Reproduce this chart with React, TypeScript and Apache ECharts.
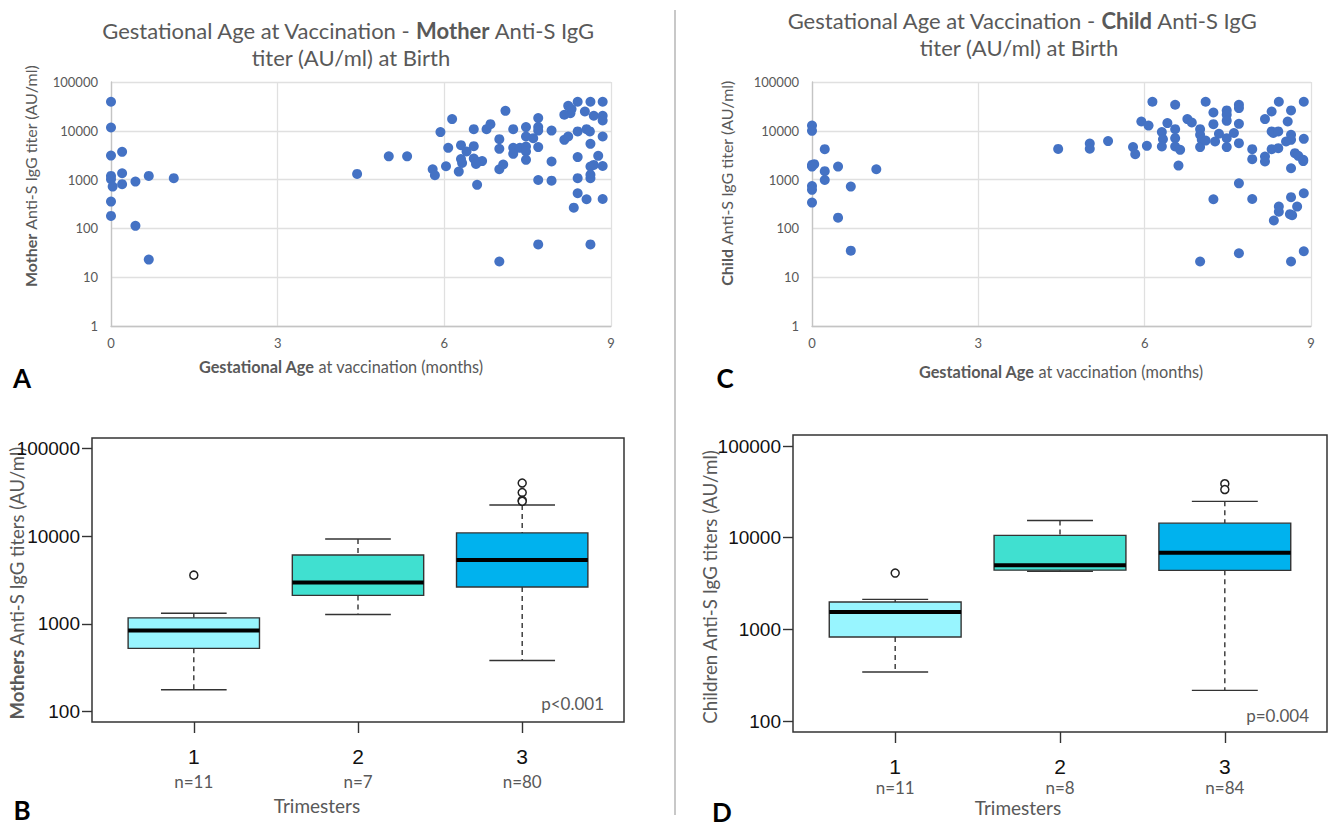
import React, { useEffect, useRef } from "react";
import * as echarts from "echarts";

// ---- Scatter data (gestational age in months, anti-S IgG titer AU/ml) ----
const motherAge = [
  0, 0, 0, 0.2, 0, 0, 0.03, 0.2, 0.2, 0.44, 0.68, 1.13, 0, 0, 0.44, 0.68,
  4.43, 5.0, 5.33, 5.79, 5.83, 5.93, 6.03, 6.07, 6.14, 6.26, 6.3, 6.4, 6.3, 6.32,
  6.53, 6.53, 6.53, 6.6, 6.68, 6.57, 6.59, 6.76, 6.83, 7.1, 6.99, 6.99, 6.99, 7.06,
  6.99, 7.24, 7.24, 7.24, 7.36, 7.47, 7.47, 7.47, 7.47, 7.47, 7.6, 7.69, 7.69, 7.69,
  7.69, 7.69, 7.69, 7.93, 7.93, 7.93, 8.16, 8.23, 8.27, 8.29, 8.4, 8.16, 8.23, 8.4,
  8.4, 8.4, 8.4, 8.33, 8.53, 8.56, 8.62, 8.63, 8.56, 8.63, 8.63, 8.63, 8.63, 8.69,
  8.63, 8.69, 8.77, 8.85, 8.85, 8.85, 8.85, 8.85, 8.85,
];
const motherTiter = [
  39400, 11700, 3100, 3700, 1190, 1020, 718, 1350, 805, 910, 1190, 1070, 354, 180, 113, 23,
  1310, 3000, 3000, 1630, 1230, 9400, 1880, 4480, 17400, 1460, 5080, 3760, 2630, 2190,
  10800, 4850, 2700, 2300, 2400, 2100, 780, 10800, 13700, 25700, 6750, 4270, 1630, 2040,
  21, 10800, 4480, 3370, 4480, 4760, 3760, 2540, 11900, 7630, 7070, 18200, 11900, 10100,
  4630, 980, 47, 10100, 2350, 950, 21300, 32600, 23000, 27900, 39400, 6540, 7630, 9700,
  2890, 1070, 525, 266, 24900, 10800, 9700, 5400, 395, 39400, 1850, 1250, 1070, 2000,
  47, 20300, 3070, 39400, 20300, 16300, 7630, 1900, 400,
];
const childAge = [
  0, 0, 0.23, 0, 0.04, 0, 0.23, 0.23, 0.47, 1.16, 0, 0, 0.7, 0, 0.47, 0.7,
  4.44, 5.01, 5.01, 5.34, 5.79, 5.83, 5.94, 6.07, 6.04, 6.14, 6.31, 6.33, 6.31, 6.41,
  6.55, 6.55, 6.55, 6.55, 6.64, 6.61, 6.77, 6.85, 7.0, 7.0, 7.03, 7.0, 7.1, 7.1, 7.0,
  7.24, 7.24, 7.27, 7.24, 7.34, 7.48, 7.48, 7.48, 7.48, 7.48, 7.61, 7.7, 7.7, 7.7, 7.7,
  7.7, 7.7, 7.94, 7.94, 7.94, 8.17, 8.17, 8.17, 8.29, 8.29, 8.32, 8.41, 8.29, 8.41,
  8.42, 8.42, 8.42, 8.33, 8.58, 8.64, 8.64, 8.64, 8.55, 8.64, 8.64, 8.62, 8.66, 8.75,
  8.64, 8.71, 8.77, 8.86, 8.86, 8.87, 8.87, 8.87, 8.87,
];
const childTiter = [
  12800, 10000, 4200, 2000, 2070, 1850, 1490, 980, 1850, 1630, 740, 616, 718, 338, 166, 35,
  4260, 5500, 4300, 6150, 4630, 3320, 15500, 12800, 4920, 39400, 9400, 6750, 4760, 14400,
  34200, 10800, 7070, 4760, 4070, 1940, 17400, 14800, 10800, 8280, 6540, 4630, 39400, 6300, 21,
  23700, 13700, 6040, 395, 8700, 26200, 21300, 16000, 7070, 4630, 9000, 34200, 29200, 13900, 5590,
  840, 31, 4200, 2620, 400, 17400, 2970, 2350, 24900, 9700, 9000, 9700, 4200, 4400,
  39400, 280, 219, 145, 15500, 26200, 8280, 6540, 6040, 1710, 436, 196, 187, 280,
  21, 3480, 3070, 2540, 2400, 39400, 6850, 525, 34,
];
const scatterTicks = [1, 10, 100, 1000, 10000, 100000];

// ---- Box plot data by trimester: [min, Q1, median, Q3, max] ----
const trimesters = [1, 2, 3];
const motherN = [11, 7, 80];
const childN = [11, 8, 84];
const motherBox = [
  [177, 525, 838, 1170, 1320],
  [1280, 2110, 2960, 6100, 9300],
  [382, 2630, 5350, 10900, 22700],
];
const motherOutliers = [
  [1, 3590],
  [3, 40400],
  [3, 31500],
  [3, 25700],
  [3, 25000],
];
const childBox = [
  [342, 824, 1545, 1990, 2120],
  [4300, 4420, 5000, 10600, 15400],
  [216, 4400, 6860, 14400, 24900],
];
const childOutliers = [
  [1, 4110],
  [3, 38800],
  [3, 33500],
];
const boxTicks = [100, 1000, 10000, 100000];
const boxColors = ["#98F5FF", "#40E0D0", "#00B2EE"];

const CAL = "Lato, 'Open Sans', sans-serif";
const NARROW = "'Liberation Sans Narrow', 'Arial Narrow', 'Liberation Sans', sans-serif";
const GRAY = "#595959";

function renderBox(params: any, api: any) {
  const x = api.value(0);
  const vmin = api.value(1);
  const q1 = api.value(2);
  const med = api.value(3);
  const q3 = api.value(4);
  const vmax = api.value(5);
  const cx = api.coord([x, med])[0];
  const bl = api.coord([x - 0.4, med])[0];
  const br = api.coord([x + 0.4, med])[0];
  const cl = api.coord([x - 0.2, med])[0];
  const cr = api.coord([x + 0.2, med])[0];
  const yMin = api.coord([x, vmin])[1];
  const yQ1 = api.coord([x, q1])[1];
  const yMed = api.coord([x, med])[1];
  const yQ3 = api.coord([x, q3])[1];
  const yMax = api.coord([x, vmax])[1];
  const stroke = "#333";
  const dash = { stroke, lineWidth: 1.4, lineDash: [5, 4] };
  const solid = { stroke, lineWidth: 1.4 };
  return {
    type: "group",
    children: [
      { type: "line", shape: { x1: cx, y1: yMax, x2: cx, y2: yQ3 }, style: dash },
      { type: "line", shape: { x1: cx, y1: yQ1, x2: cx, y2: yMin }, style: dash },
      { type: "line", shape: { x1: cl, y1: yMax, x2: cr, y2: yMax }, style: solid },
      { type: "line", shape: { x1: cl, y1: yMin, x2: cr, y2: yMin }, style: solid },
      {
        type: "rect",
        shape: { x: bl, y: yQ3, width: br - bl, height: yQ1 - yQ3 },
        style: { fill: boxColors[params.dataIndex], stroke, lineWidth: 1.4 },
      },
      { type: "line", shape: { x1: bl, y1: yMed, x2: br, y2: yMed }, style: { stroke: "#000", lineWidth: 4 } },
    ],
  };
}

function scatterAxes(gridIndex: number) {
  const x = {
    type: "value",
    gridIndex,
    min: 0,
    max: 9,
    interval: 3,
    axisLine: { show: true, lineStyle: { color: "#c4c4c4", width: 1.3 } },
    axisTick: { show: false },
    splitLine: { show: true, lineStyle: { color: "#e0e0e0", width: 1.3 } },
    axisLabel: { color: GRAY, fontFamily: CAL, fontSize: 13, margin: 10 },
  };
  const y = {
    type: "log",
    logBase: 10,
    gridIndex,
    min: scatterTicks[0],
    max: scatterTicks[scatterTicks.length - 1],
    axisLine: { show: true, lineStyle: { color: "#c4c4c4", width: 1.3 } },
    axisTick: { show: false },
    splitLine: { show: true, lineStyle: { color: "#e0e0e0", width: 1.3 } },
    axisLabel: {
      color: GRAY,
      fontFamily: CAL,
      fontSize: 13,
      margin: 13,
      formatter: (v: number) => String(Math.round(v)),
    },
  };
  return { x, y };
}

function boxAxes(gridIndex: number, counts: number[], topLine: number) {
  const isB = gridIndex === 2;
  const x = {
    type: "value",
    gridIndex,
    min: 0.38,
    max: 3.62,
    axisLine: { show: false },
    splitLine: { show: false },
    axisTick: {
      show: true,
      customValues: trimesters,
      length: 11,
      lineStyle: { color: "#333", width: 1.4 },
    },
    axisLabel: {
      customValues: trimesters,
      margin: topLine,
      formatter: (v: number) => {
        const i = Math.round(v);
        return `{c|${i}}\n{n|n=${counts[i - 1]}}`;
      },
      rich: {
        c: { fontFamily: NARROW, fontSize: 21, color: "#111", lineHeight: isB ? 24 : 21 },
        n: { fontFamily: CAL, fontSize: 17, color: GRAY, lineHeight: isB ? 26 : 20 },
      },
    },
  };
  const y = {
    type: "log",
    logBase: 10,
    gridIndex,
    min: Math.pow(10, 1.88),
    max: Math.pow(10, 5.12),
    axisLine: { show: false },
    splitLine: { show: false },
    axisTick: {
      show: true,
      customValues: boxTicks,
      length: 10,
      lineStyle: { color: "#333", width: 1.4 },
    },
    axisLabel: {
      customValues: boxTicks,
      fontFamily: NARROW,
      fontSize: 19,
      color: "#111",
      margin: 12,
      formatter: (v: number) => String(Math.round(v)),
    },
  };
  return { x, y };
}

function txt(x: number, y: number, text: string, opts: any = {}) {
  const { rotation, ...style } = opts;
  return {
    type: "text",
    x,
    y,
    rotation: rotation || 0,
    style: {
      text,
      fill: GRAY,
      font: `15px ${CAL}`,
      align: "center",
      verticalAlign: "middle",
      ...style,
    },
  };
}

export default function App() {
  const ref = useRef<HTMLDivElement>(null);

  useEffect(() => {
    if (!ref.current) return;
    const chart = echarts.init(ref.current, null, { renderer: "svg" });

    const a = scatterAxes(0);
    const c = scatterAxes(1);
    const b = boxAxes(2, motherN, 22);
    const d = boxAxes(3, childN, 24);

    const boldRich = (size: number) => ({
      b: { fontFamily: CAL, fontSize: size, fontWeight: "bold", fill: GRAY, color: GRAY },
      r: { fontFamily: CAL, fontSize: size, fill: GRAY, color: GRAY },
    });

    const option: any = {
      animation: false,
      backgroundColor: "#ffffff",
      textStyle: { fontFamily: CAL },
      grid: [
        { left: 111, top: 82, width: 500, height: 244 },
        { left: 812, top: 82, width: 499, height: 244 },
        { left: 92, top: 438, width: 532, height: 284, show: true, borderColor: "#333", borderWidth: 1.5, backgroundColor: "transparent" },
        { left: 793, top: 435, width: 534, height: 297, show: true, borderColor: "#333", borderWidth: 1.5, backgroundColor: "transparent" },
      ],
      xAxis: [a.x, c.x, b.x, d.x],
      yAxis: [a.y, c.y, b.y, d.y],
      series: [
        {
          type: "scatter",
          xAxisIndex: 0,
          yAxisIndex: 0,
          symbolSize: 10,
          itemStyle: { color: "#4472C4", opacity: 1 },
          data: motherAge.map((m, i) => [m, motherTiter[i]]),
        },
        {
          type: "scatter",
          xAxisIndex: 1,
          yAxisIndex: 1,
          symbolSize: 10,
          itemStyle: { color: "#4472C4", opacity: 1 },
          data: childAge.map((m, i) => [m, childTiter[i]]),
        },
        {
          type: "custom",
          xAxisIndex: 2,
          yAxisIndex: 2,
          renderItem: renderBox,
          encode: { x: 0, y: [1, 2, 3, 4, 5] },
          data: motherBox.map((bx, i) => [trimesters[i], ...bx]),
        },
        {
          type: "custom",
          xAxisIndex: 3,
          yAxisIndex: 3,
          renderItem: renderBox,
          encode: { x: 0, y: [1, 2, 3, 4, 5] },
          data: childBox.map((bx, i) => [trimesters[i], ...bx]),
        },
        {
          type: "scatter",
          xAxisIndex: 2,
          yAxisIndex: 2,
          symbolSize: 8,
          itemStyle: { color: "#ffffff", borderColor: "#222", borderWidth: 1.5, opacity: 1 },
          data: motherOutliers,
        },
        {
          type: "scatter",
          xAxisIndex: 3,
          yAxisIndex: 3,
          symbolSize: 8,
          itemStyle: { color: "#ffffff", borderColor: "#222", borderWidth: 1.5, opacity: 1 },
          data: childOutliers,
        },
      ],
      graphic: [
        { type: "line", shape: { x1: 675, y1: 10, x2: 675, y2: 815 }, style: { stroke: "#c8c8c8", lineWidth: 2 } },
        // Titles
        txt(348, 30, "{r|Gestational Age at Vaccination - }{b|Mother}{r| Anti-S IgG}", { rich: boldRich(22) }),
        txt(351, 57, "titer (AU/ml) at Birth", { font: `22px ${CAL}` }),
        txt(1022, 20, "{r|Gestational Age at Vaccination - }{b|Child}{r| Anti-S IgG}", { rich: boldRich(22) }),
        txt(1019, 47, "titer (AU/ml) at Birth", { font: `22px ${CAL}` }),
        // Scatter axis titles
        txt(30, 176, "{b|Mother}{r| Anti-S IgG titer (AU/ml)}", { rich: boldRich(16), rotation: Math.PI / 2 }),
        txt(341, 366, "{b|Gestational Age}{r| at vaccination (months)}", { rich: boldRich(16.3) }),
        txt(726, 183, "{b|Child}{r| Anti-S IgG titer (AU/ml)}", { rich: boldRich(16), rotation: Math.PI / 2 }),
        txt(1061, 371, "{b|Gestational Age}{r| at vaccination (months)}", { rich: boldRich(16.3) }),
        // Box plot axis titles
        txt(17, 583, "{b|Mothers}{r| Anti-S IgG titers (AU/ml)}", { rich: boldRich(18.5), rotation: Math.PI / 2 }),
        txt(710, 587, "Children Anti-S IgG titers (AU/ml)", { font: `18.7px ${CAL}`, rotation: Math.PI / 2 }),
        txt(317, 805, "Trimesters", { font: `19px ${CAL}` }),
        txt(1018, 807, "Trimesters", { font: `19px ${CAL}` }),
        txt(604, 703, "p<0.001", { font: `17px ${CAL}`, align: "right" }),
        txt(1309, 715, "p=0.004", { font: `17px ${CAL}`, align: "right" }),
        // Panel letters
        txt(22, 378, "A", { font: `bold 26px ${CAL}`, fill: "#000" }),
        txt(725, 378, "C", { font: `bold 26px ${CAL}`, fill: "#000" }),
        txt(22, 810, "B", { font: `bold 26px ${CAL}`, fill: "#000" }),
        txt(722, 812, "D", { font: `bold 26px ${CAL}`, fill: "#000" }),
      ],
    };

    chart.setOption(option);
    return () => chart.dispose();
  }, []);

  return (
    <div
      ref={ref}
      style={{ position: "absolute", left: 0, top: 0, width: 1330, height: 827, background: "#fff" }}
    />
  );
}
